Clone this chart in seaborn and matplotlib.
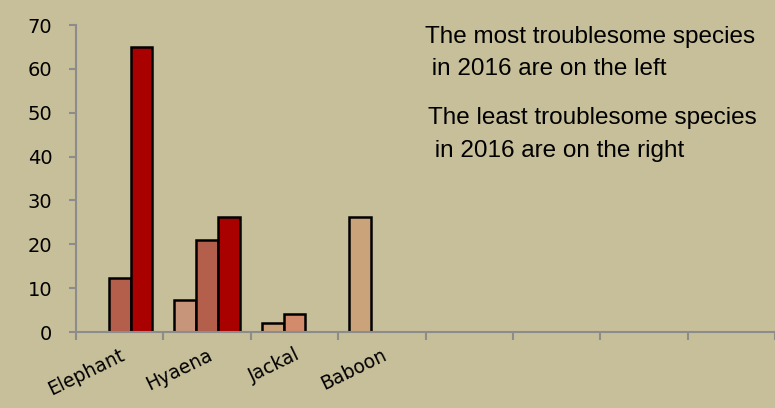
import numpy as np
import pandas as pd
import matplotlib
matplotlib.use("Agg")
import matplotlib.pyplot as plt
import seaborn as sns

categories = ["Elephant", "Hyaena", "Jackal", "Baboon", "c5", "c6", "c7", "c8"]
tick_labels = ["Elephant", "Hyaena", "Jackal", "Baboon", "", "", "", ""]
series_names = ["A", "B", "C"]
series_a = [np.nan, 7.2, 2.1, 26.3, np.nan, np.nan, np.nan, np.nan]
series_b = [12.2, 20.9, 4.0, np.nan, np.nan, np.nan, np.nan, np.nan]
series_c = [65.0, 26.3, np.nan, np.nan, np.nan, np.nan, np.nan, np.nan]

colors_a = ["#CBA37B", "#C6957A", "#CBA37B", "#CBA37B", "#CBA37B", "#CBA37B", "#CBA37B", "#CBA37B"]
colors_b = ["#B35F4B", "#B35F4B", "#D28B6B", "#B35F4B", "#B35F4B", "#B35F4B", "#B35F4B", "#B35F4B"]
colors_c = ["#A90000"] * 8

bg = "#C7BF99"

rows = []
for s, vals in zip(series_names, [series_a, series_b, series_c]):
    for c, v in zip(categories, vals):
        rows.append({"category": c, "series": s, "value": v})
df = pd.DataFrame(rows)

sns.set_style("white")
plt.rcParams["font.family"] = ["DejaVu Sans"]

fig = plt.figure(figsize=(7.75, 4.08), dpi=100, facecolor=bg)
ax = fig.add_axes([76 / 775, 76 / 408, 1 - 76 / 775, (332 - 25) / 408])
ax.set_facecolor(bg)

sns.barplot(data=df, x="category", y="value", hue="series", order=categories,
            hue_order=series_names, width=0.75, dodge=True, ax=ax,
            edgecolor="black", linewidth=1.8, legend=False, errorbar=None)

all_colors = [colors_a, colors_b, colors_c]
for p in ax.patches:
    h = p.get_height()
    if h is None or np.isnan(h) or h == 0:
        p.set_visible(False)
        continue
    cx = p.get_x() + p.get_width() / 2
    ci = int(round(cx))
    si = int(round((cx - ci) / 0.25)) + 1
    p.set_facecolor(all_colors[si][ci])
    p.set_edgecolor("black")
    p.set_linewidth(1.8)

ax.set_xlim(-0.5, 7.41)
ax.set_ylim(0, 70)
ax.set_yticks(np.arange(0, 71, 10))
ax.tick_params(axis="y", left=True, length=5, width=1.5, color="#8C8C8C",
               labelsize=14, labelcolor="black", pad=12)

ax.set_xticks(np.arange(len(categories)))
ax.set_xticklabels([])
ax.set_xticks(np.arange(-0.5, 7.6, 1.0), minor=True)
ax.tick_params(axis="x", which="major", bottom=False, length=0)
ax.tick_params(axis="x", which="minor", bottom=True, length=6, width=1.5, color="#8C8C8C")
for i, lab in enumerate(tick_labels):
    if lab:
        ax.text(i, -3.0, lab, rotation=26, ha="right", va="top",
                rotation_mode="anchor", fontsize=13.5, color="black")

ax.set_xlabel("")
ax.set_ylabel("")
for side in ["top", "right"]:
    ax.spines[side].set_visible(False)
for side in ["left", "bottom"]:
    ax.spines[side].set_color("#8C8C8C")
    ax.spines[side].set_linewidth(1.5)

tfont = dict(family=["Liberation Sans", "DejaVu Sans"], fontsize=17.5, color="black")
fig.text(425 / 775, 1 - 43 / 408, "The most troublesome species", **tfont)
fig.text(425 / 775, 1 - 75 / 408, " in 2016 are on the left", **tfont)
fig.text(428 / 775, 1 - 124 / 408, "The least troublesome species", **tfont)
fig.text(428 / 775, 1 - 157 / 408, " in 2016 are on the right", **tfont)

fig.savefig("out.png", dpi=100, facecolor=bg)
